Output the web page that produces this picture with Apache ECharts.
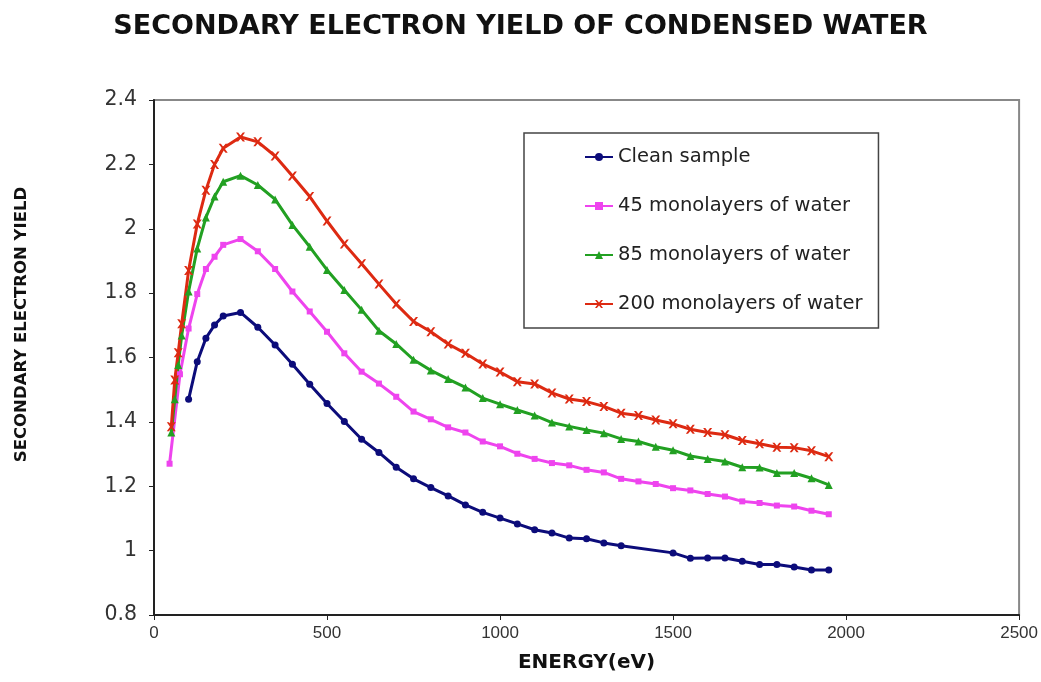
<!DOCTYPE html>
<html>
<head>
<meta charset="utf-8">
<script src="https://cdn.jsdelivr.net/npm/echarts@6/dist/echarts.min.js"></script>
<style>html,body{margin:0;padding:0;background:#fff}#chart{width:1041px;height:682px}</style>
</head>
<body>
<div id="chart"></div>
<script>
const seriesNames = ['Clean sample', '45 monolayers of water', '85 monolayers of water', '200 monolayers of water'];

const cleanEnergy = [100,125,150,175,200,250,300,350,400,450,500,550,600,650,700,750,800,850,900,950,1000,1050,1100,1150,1200,1250,1300,1350,1500,1550,1600,1650,1700,1750,1800,1850,1900,1950];
const cleanYield  = [1.47,1.587,1.66,1.701,1.729,1.74,1.694,1.639,1.579,1.517,1.457,1.401,1.346,1.305,1.259,1.223,1.196,1.17,1.142,1.119,1.101,1.083,1.065,1.055,1.039,1.037,1.024,1.015,0.993,0.976,0.977,0.977,0.967,0.957,0.957,0.949,0.94,0.94];

const ml45Energy = [45,75,100,125,150,175,200,250,300,350,400,450,500,550,600,650,700,750,800,850,900,950,1000,1050,1100,1150,1200,1250,1300,1350,1400,1450,1500,1550,1600,1650,1700,1750,1800,1850,1900,1950];
const ml45Yield  = [1.27,1.548,1.69,1.797,1.875,1.913,1.95,1.968,1.93,1.875,1.805,1.743,1.68,1.613,1.556,1.519,1.478,1.432,1.408,1.383,1.367,1.339,1.324,1.301,1.285,1.272,1.265,1.251,1.243,1.223,1.215,1.207,1.194,1.187,1.176,1.168,1.153,1.148,1.14,1.137,1.124,1.113];

const ml85Energy = [50,60,70,80,100,125,150,175,200,250,300,350,400,450,500,550,600,650,700,750,800,850,900,950,1000,1050,1100,1150,1200,1250,1300,1350,1400,1450,1500,1550,1600,1650,1700,1750,1800,1850,1900,1950];
const ml85Yield  = [1.367,1.47,1.577,1.668,1.805,1.939,2.035,2.1,2.146,2.165,2.136,2.091,2.012,1.944,1.872,1.81,1.748,1.683,1.642,1.593,1.56,1.533,1.507,1.474,1.455,1.437,1.42,1.398,1.386,1.375,1.365,1.347,1.339,1.323,1.312,1.294,1.285,1.277,1.259,1.258,1.241,1.241,1.225,1.204];

const ml200Energy = [50,60,70,80,100,125,150,175,200,250,300,350,400,450,500,550,600,650,700,750,800,850,900,950,1000,1050,1100,1150,1200,1250,1300,1350,1400,1450,1500,1550,1600,1650,1700,1750,1800,1850,1900,1950];
const ml200Yield  = [1.385,1.53,1.615,1.705,1.87,2.015,2.12,2.2,2.25,2.285,2.27,2.226,2.164,2.1,2.024,1.953,1.891,1.828,1.766,1.712,1.68,1.642,1.613,1.58,1.555,1.525,1.518,1.49,1.471,1.463,1.448,1.427,1.42,1.406,1.394,1.377,1.367,1.36,1.342,1.332,1.321,1.32,1.31,1.292];

const xTicks = [0, 500, 1000, 1500, 2000, 2500];
const yTicks = [0.8, 1, 1.2, 1.4, 1.6, 1.8, 2, 2.2, 2.4];

const zip = (xs, ys) => xs.map((x, i) => [x, ys[i]]);
const xPath = 'path://M0,0L2.4,0L5,3.2L7.6,0L10,0L6.4,5L10,10L7.6,10L5,6.8L2.4,10L0,10L3.6,5Z';

const colors = ['#0c0c7a', '#ee44ee', '#22a022', '#dd2a12'];
const symbols = ['circle', 'rect', 'triangle', xPath];
const sizes = [7, 6, 8, 9];
const datasets = [zip(cleanEnergy, cleanYield), zip(ml45Energy, ml45Yield), zip(ml85Energy, ml85Yield), zip(ml200Energy, ml200Yield)];

const wide = 'DejaVu Sans, Verdana, sans-serif';
const chart = echarts.init(document.getElementById('chart'));
chart.setOption({
  animation: false,
  textStyle: { fontFamily: 'Liberation Sans, Arial, sans-serif' },
  title: {
    text: 'SECONDARY ELECTRON YIELD OF CONDENSED WATER',
    left: 'center', top: 8,
    textStyle: { fontSize: 27, fontWeight: 'bold', color: '#111', fontFamily: wide }
  },
  legend: {
    orient: 'vertical',
    left: 524, top: 133,
    padding: [14, 16, 14, 60],
    itemGap: 29,
    itemWidth: 28, itemHeight: 10,
    borderColor: '#444', borderWidth: 1.5,
    textStyle: { fontSize: 19.5, color: '#222', fontFamily: wide },
    data: seriesNames
  },
  grid: {
    left: 154, right: 21, top: 100, bottom: 67,
    show: true, borderColor: '#888', borderWidth: 2, backgroundColor: '#fff'
  },
  xAxis: {
    type: 'value', min: 0, max: 2500, interval: 500,
    name: 'ENERGY(eV)', nameLocation: 'middle', nameGap: 38,
    nameTextStyle: { fontSize: 20, fontWeight: 'bold', color: '#111', fontFamily: wide },
    axisLine: { lineStyle: { color: '#222', width: 2 } },
    axisTick: { show: true, length: 5, lineStyle: { color: '#222' } },
    axisLabel: { fontSize: 17, color: '#333', margin: 10, formatter: v => xTicks.includes(v) ? String(v) : '' },
    splitLine: { show: false }
  },
  yAxis: {
    type: 'value', min: 0.8, max: 2.4, interval: 0.2,
    name: 'SECONDARY ELECTRON YIELD', nameLocation: 'middle', nameGap: 124, nameRotate: 90,
    nameTextStyle: { fontSize: 16.5, fontWeight: 'bold', color: '#111', fontFamily: wide, padding: [0, 0, 0, 66] },
    axisLine: { show: true, lineStyle: { color: '#222', width: 2 } },
    axisTick: { show: true, length: 5, lineStyle: { color: '#222' } },
    axisLabel: { fontSize: 20.5, color: '#333', margin: 17, fontFamily: wide, formatter: v => String(yTicks.find(t => Math.abs(t - v) < 1e-6) ?? '') },
    splitLine: { show: false }
  },
  series: seriesNames.map((name, i) => ({
    name, type: 'line',
    data: datasets[i],
    symbol: symbols[i], symbolSize: sizes[i],
    showAllSymbol: true,
    color: colors[i],
    lineStyle: { width: 3, color: colors[i] },
    itemStyle: { color: colors[i] }
  }))
});
</script>
</body>
</html>
